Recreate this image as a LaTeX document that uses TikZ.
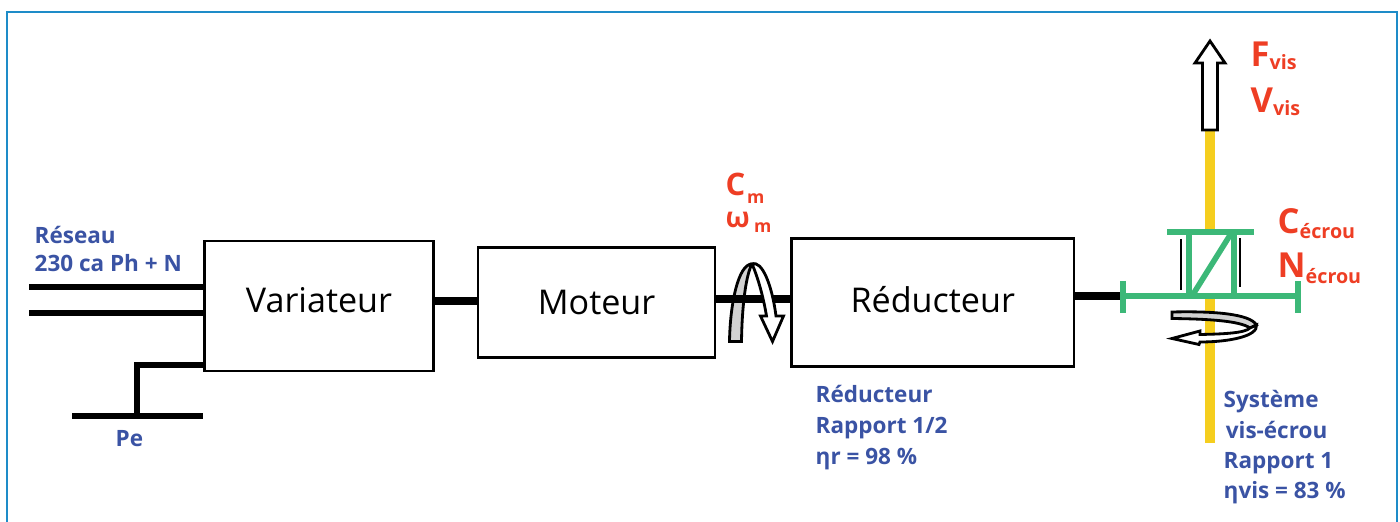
\documentclass[tikz,border=0pt]{standalone}
\usepackage{fontspec}
\setmainfont{Open Sans}
\usepackage{tikz}
\usetikzlibrary{arrows.meta,positioning}
\usepackage{xcolor}
\definecolor{cadreblue}  {RGB}{30 ,140,200}
\definecolor{textblue}   {RGB}{58 , 83,164}
\definecolor{textred}    {RGB}{238, 62, 36}
\definecolor{vertnoix}   {RGB}{60 ,184,120}
\definecolor{jaunevis}   {RGB}{245,206, 30}
\definecolor{grisruban}  {RGB}{210,210,210}
\newcommand{\ind}[2][0.8pt]{\raisebox{-#1}{\fontsize{5.6}{7}\selectfont #2}}
\newcommand{\indm}[1]{\raisebox{-#1}{\fontsize{5}{7}\selectfont m}}

\begin{document}
\begin{tikzpicture}[
  x=0.01cm, y=-0.01cm,
  every node/.style={inner sep=0pt},
  bloc/.style={draw=black, line width=0.7pt, font=\fontsize{9.7}{12}\selectfont},
  arbre/.style={line width=2.1pt, black},
  ligne/.style={line width=1.6pt, black},
  noix/.style={line width=1.6pt, vertnoix},
  vis/.style={line width=2.9pt, jaunevis},
  guide/.style={line width=0.8pt, black},
  ruban/.style={draw=black, line width=0.8pt, line join=miter},
  legende/.style={font=\fontsize{6.4}{8.8}\selectfont\bfseries, text=textblue, align=left, anchor=north west},
  grandeur/.style={font=\fontsize{9.8}{12}\selectfont\bfseries, text=textred, anchor=base west}
]
  \useasboundingbox (0,0) rectangle (1400,522);
  \draw [cadreblue, line width=0.6pt] (7,522) -- (7,12) -- (1397,12) -- (1397,522);

  % Nodes
  \node (variateur) [bloc, minimum width=2.29cm, minimum height=1.3cm, text depth=0.13cm] at (319,306) {Variateur};
  \node (moteur) [bloc, minimum width=2.37cm, minimum height=1.1cm, right=0.42cm of variateur, yshift=0.035cm] {Moteur};
  \node (reducteur) [bloc, minimum width=2.82cm, minimum height=1.28cm, right=0.74cm of moteur, text depth=0.06cm] {Réducteur};

  \coordinate (arbreA) at (433,301);
  \coordinate (arbreB) at (715,299);
  \coordinate (arbreC) at (1122,296);
  \coordinate (phase) at (29,287);
  \coordinate (neutre) at (29,313);
  \coordinate (terreH) at (137,365);
  \coordinate (terreB) at (137,416);
  \coordinate (terreG) at (72,416);
  \coordinate (terreD) at (203,416);
  \coordinate (noixG) at (1123,296);
  \coordinate (noixD) at (1298,296);
  \coordinate (noixH) at (1210,232);
  \coordinate (visH) at (1210,130);
  \coordinate (visB) at (1210,443);

  % Rotation moteur (arriere)
  \draw [ruban, fill=grisruban] (729.5,341.5) .. controls (730,305) and (738,264) .. (752,264)
    .. controls (746,275) and (742,305) .. (741.5,341.5) -- cycle;

  % Paths
  \draw [arbre] (variateur.east |- arbreA) -- (moteur.west |- arbreA);
  \draw [arbre] (moteur.east |- arbreB) -- (reducteur.west |- arbreB);
  \draw [arbre] (reducteur.east |- arbreC) -- (arbreC);
  \draw [ligne] (phase) -- (phase -| variateur.west);
  \draw [ligne] (neutre) -- (neutre -| variateur.west);
  \draw [ligne] (variateur.west |- terreH) -- (terreH) -- (terreB);
  \draw [ligne] (terreG) -- (terreD);

  % Rotation moteur (fleche)
  \draw [ruban, fill=white] (752,264) .. controls (762,260) and (772,285) .. (776,316)
    -- (783.5,316) -- (772.5,341.5) -- (760.5,316) -- (766.5,316)
    .. controls (763,295) and (757,275) .. (752,264) -- cycle;

  % Vis et noix
  \draw [vis] (visH) -- (noixH);
  \draw [vis] (noixG -| visB) -- (visB);
  \draw [noix] (noixG) -- (noixD);
  \draw [noix] (1123,281) -- (1123,313);
  \draw [noix] (1298,281) -- (1298,313);
  \draw [noix] (1167,232) -- (1254,232);
  \draw [noix] (1189,232) -- (1189,296);
  \draw [noix] (1234,232) -- (1234,296);
  \draw [noix] (1192,296) -- (1232,232);
  \draw [guide] (1181,239) -- (1181,290);
  \draw [guide] (1240,238) -- (1240,287);

  % Fleche de sortie
  \draw [ruban, fill=white] (1202.5,130) -- (1202.5,63) -- (1195,63) -- (1210,41) -- (1225,63) -- (1217.5,63) -- (1217.5,130) -- cycle;

  % Rotation noix
  \draw [ruban, fill=grisruban] (1172,312) .. controls (1215,311) and (1250,314) .. (1256.5,325)
    -- (1250,328) .. controls (1240,321) and (1210,319) .. (1172,318.5) -- cycle;
  \draw [ruban, fill=white] (1256.5,325) .. controls (1258,336) and (1230,342) .. (1200,342)
    -- (1199,344.5) -- (1172,338.5) -- (1200,331) -- (1200,334.5)
    .. controls (1225,334) and (1245,333) .. (1250,328) -- cycle;

  % Labels
  \node (reseau) [legende] at (34,226) {Réseau\\[-0.9pt]230 ca Ph + N};
  \node (pe) [legende] at (115,430) {Pe};
  \node (rapportr) [legende] at (815,385) {Réducteur\\Rapport 1/2\\ηr = 98 \%};
  \node (rapportv) [legende, font=\fontsize{6.4}{8.6}\selectfont\bfseries] at (1223,390) {Système\\\hspace*{0.6pt}vis-écrou\\Rapport 1\\ηvis = 83 \%};
  \node (cm) [grandeur, font=\fontsize{8.8}{10}\selectfont\bfseries] at (725,196) {C\hspace{0.5pt}\indm{2pt}};
  \node (wm) [grandeur, font=\fontsize{8}{10}\selectfont\bfseries] at (725,228) {ω\hspace{1.2pt}\indm{1.4pt}};
  \node (fvis) [grandeur] at (1250,67) {F\ind{vis}};
  \node (vvis) [grandeur] at (1250,113) {V\ind{vis}};
  \node (cecrou) [grandeur] at (1277,234) {C\ind[1.4pt]{écrou}};
  \node (necrou) [grandeur] at (1277,278) {N\ind[1.7pt]{écrou}};
\end{tikzpicture}
\end{document}
